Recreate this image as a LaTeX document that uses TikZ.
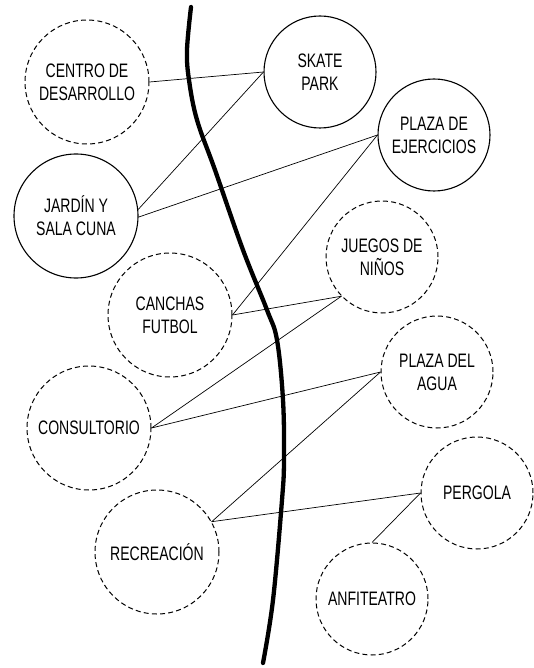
\documentclass[tikz,border=0pt]{standalone}
\usepackage{fontspec}
\setmainfont{Liberation Sans}[FakeStretch=0.72]
\begin{document}
\begin{tikzpicture}[x=1pt, y=-1pt,
    big/.style={circle, draw, line width=1.1pt, minimum size=124pt, inner sep=0pt, align=center, font=\fontsize{19.5}{23}\selectfont},
    small/.style={big, minimum size=112pt},
    plan/.style={dash pattern=on 5pt off 3.2pt, line width=1pt},
    link/.style={line width=0.7pt},
]
\useasboundingbox (0,0) rectangle (533,668);

% Left column
\node[big, plan] (centro) at (87,82) {CENTRO DE\\DESARROLLO};
\node[big] (jardin) at (76,216) {JARDÍN Y\\SALA CUNA};
\node[big, plan] (canchas) at (170,315) {CANCHAS\\FUTBOL};
\node[big, plan] (consult) at (89,428) {CONSULTORIO};
\node[big, plan] (recre) at (157,552) {RECREACIÓN};

% Right column
\node[small] (skate) at (320,72) {SKATE\\PARK};
\node[small] (ejerc) at (434,135) {PLAZA DE\\EJERCICIOS};
\node[small, plan] (juegos) at (382,257) {JUEGOS DE\\NIÑOS};
\node[small, plan] (agua) at (437,372) {PLAZA DEL\\AGUA};
\node[small, plan] (pergola) at (477,493) {PERGOLA};
\node[small, plan] (anfi) at (372,599) {ANFITEATRO};

% Links
\draw[link] (centro.east) -- (skate.west);
\draw[link] (jardin.6) -- (skate.west);
\draw[link] (jardin.-1) -- (ejerc.west);
\draw[link] (canchas.east) -- (ejerc.west);
\draw[link] (canchas.east) -- (juegos.224);
\draw[link] (consult.east) -- (juegos.224);
\draw[link] (consult.east) -- (agua.west);
\draw[link] (recre.29) -- (agua.west);
\draw[link] (recre.29) -- (pergola.west);
\draw[link] (anfi.north) -- (pergola.west);

% Thick path
\draw[line width=4.3pt, line cap=round] plot[smooth, tension=0.6] coordinates {
  (191,7) (187,50) (189,80) (197,120) (215,170) (243,250) (267,310)
  (277,340) (283,400) (284,460) (282,500) (273,600) (263,663)};
\end{tikzpicture}
\end{document}
